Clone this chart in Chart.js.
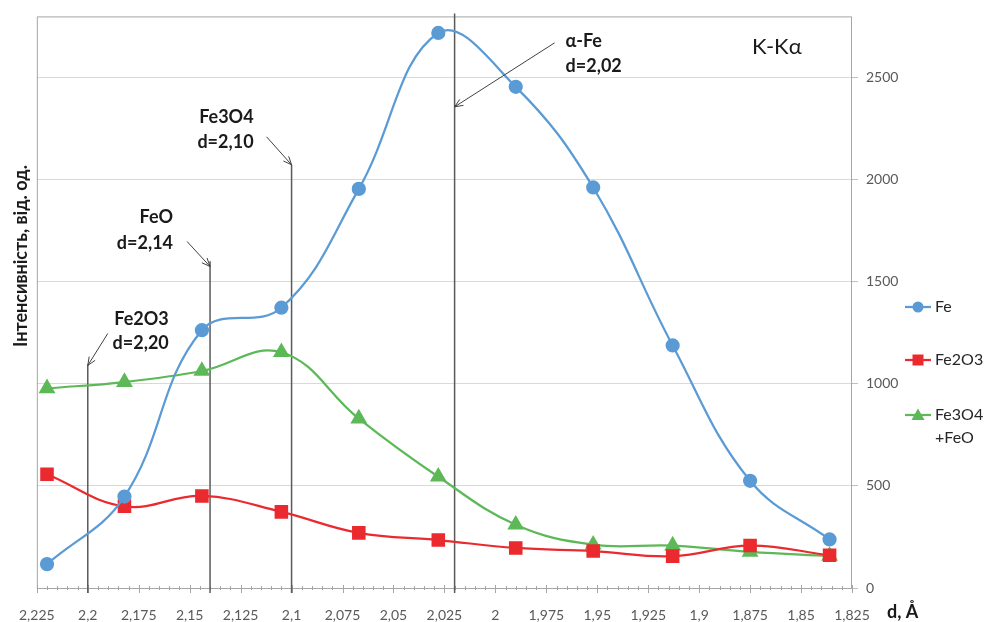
<!DOCTYPE html>
<html lang="uk">
<head>
<meta charset="utf-8">
<title>K-Kα</title>
<script src="https://cdn.jsdelivr.net/npm/chart.js@4.4.1/dist/chart.umd.min.js"></script>
<style>
  html, body { margin: 0; padding: 0; background: #fff; }
  #wrap { width: 986px; height: 622px; }
</style>
</head>
<body>
<div id="wrap"><canvas id="chart" width="986" height="622"></canvas></div>
<script>
// --- дані ---
const dValues     = [2.220, 2.182, 2.144, 2.105, 2.067, 2.028, 1.990, 1.952, 1.913, 1.875, 1.836];
const feValues    = [117, 448, 1263, 1373, 1955, 2719, 2455, 1962, 1188, 525, 238];
const fe2o3Values = [557, 400, 451, 373, 270, 235, 196, 181, 156, 208, 160];
const fe3o4Values = [978, 1009, 1063, 1155, 830, 545, 310, 212, 208, 177, 157];

const xTicks = [2.225, 2.2, 2.175, 2.15, 2.125, 2.1, 2.075, 2.05, 2.025, 2, 1.975, 1.95, 1.925, 1.9, 1.875, 1.85, 1.825];
const yTicks = [0, 500, 1000, 1500, 2000, 2500];

const phaseNames  = ['Fe2O3', 'FeO', 'Fe3O4', 'α-Fe'];
const phaseD      = [2.20, 2.14, 2.10, 2.02];
const phaseLabels = ['d=2,20', 'd=2,14', 'd=2,10', 'd=2,02'];

const FONT = 'Lato, "Open Sans", sans-serif';

const toPoints = (vals) => dValues.map((d, i) => ({ x: d, y: vals[i] }));

// --- вертикальні лінії фаз та стрілки ---
// top: висота лінії (null = на всю висоту), tip: значення кінця стрілки,
// tail / text: зсув у пікселях від кінця стрілки
const phaseGeom = [
  { top: 1095, tip: 1090, tail: [20, -32], textX: 81, rows: [-46, -22], align: 'right' },
  { top: 1600, tip: 1575, tail: [-23, -25], textX: -37, rows: [-49, -23], align: 'right' },
  { top: 2073, tip: 2073, tail: [-25, -28], textX: -38, rows: [-48, -23], align: 'right' },
  { top: null, tip: 2357, tail: [100, -64], textX: 111, rows: [-66, -41], align: 'left' }
];

function arrow(ctx, x1, y1, x2, y2) {
  const a = Math.atan2(y2 - y1, x2 - x1);
  const h = 9;
  ctx.beginPath();
  ctx.moveTo(x1, y1);
  ctx.lineTo(x2, y2);
  ctx.moveTo(x2 - h * Math.cos(a - 0.4), y2 - h * Math.sin(a - 0.4));
  ctx.lineTo(x2, y2);
  ctx.lineTo(x2 - h * Math.cos(a + 0.4), y2 - h * Math.sin(a + 0.4));
  ctx.stroke();
}

function marker(ctx, style, x, y, color) {
  ctx.fillStyle = color;
  ctx.beginPath();
  if (style === 'circle') {
    ctx.arc(x, y, 5.5, 0, Math.PI * 2);
  } else if (style === 'rect') {
    ctx.rect(x - 5.5, y - 5.5, 11, 11);
  } else {
    ctx.moveTo(x, y - 6.5);
    ctx.lineTo(x + 6.5, y + 5);
    ctx.lineTo(x - 6.5, y + 5);
    ctx.closePath();
  }
  ctx.fill();
}

const decorPlugin = {
  id: 'decor',
  beforeDatasetsDraw(chart) {
    const { ctx, chartArea: a, scales: { x, y } } = chart;
    ctx.save();
    // рамка області побудови
    ctx.strokeStyle = '#A6A6A6';
    ctx.lineWidth = 1;
    ctx.strokeRect(a.left + 0.5, a.top + 0.5, a.right - a.left - 1, a.bottom - a.top);
    // поділки осі X
    for (let i = 0; i <= 80; i++) {
      const v = 1.825 + i * 0.005;
      const px = Math.round(x.getPixelForValue(v)) + 0.5;
      const major = i % 5 === 0;
      ctx.beginPath();
      ctx.moveTo(px, a.bottom - (major ? 3 : 2));
      ctx.lineTo(px, a.bottom + (major ? 5 : 2));
      ctx.stroke();
    }
    // лінії фаз
    ctx.strokeStyle = '#5A5A5A';
    ctx.lineWidth = 1.5;
    phaseD.forEach((d, i) => {
      const g = phaseGeom[i];
      const px = x.getPixelForValue(d);
      const top = g.top === null ? a.top - 3 : y.getPixelForValue(g.top);
      ctx.beginPath();
      ctx.moveTo(px, top);
      ctx.lineTo(px, a.bottom + 5);
      ctx.stroke();
    });
    ctx.restore();
  },
  afterDraw(chart) {
    const { ctx, chartArea: a, scales: { x, y } } = chart;
    ctx.save();
    // стрілки та підписи фаз
    ctx.strokeStyle = '#404040';
    ctx.lineWidth = 1;
    ctx.fillStyle = '#1A1A1A';
    ctx.font = 'bold 18px ' + FONT;
    ctx.textBaseline = 'middle';
    phaseD.forEach((d, i) => {
      const g = phaseGeom[i];
      const tx = x.getPixelForValue(d);
      const ty = y.getPixelForValue(g.tip);
      arrow(ctx, tx + g.tail[0], ty + g.tail[1], tx, ty);
      ctx.textAlign = g.align;
      ctx.fillText(phaseNames[i], tx + g.textX, ty + g.rows[0]);
      ctx.fillText(phaseLabels[i], tx + g.textX, ty + g.rows[1]);
    });

    // K-Kα
    ctx.font = '22px ' + FONT;
    ctx.textAlign = 'left';
    ctx.fillText('K-Kα', 752, 47);

    // назва осі Y
    ctx.font = 'bold 18px ' + FONT;
    ctx.save();
    ctx.translate(27, 256);
    ctx.rotate(-Math.PI / 2);
    ctx.textAlign = 'center';
    ctx.textBaseline = 'alphabetic';
    ctx.fillText('Інтенсивність, від. од.', 0, 0);
    ctx.restore();

    // назва осі X
    ctx.textAlign = 'left';
    ctx.textBaseline = 'alphabetic';
    ctx.fillText('d, Å', 887, 618);

    // легенда
    const rows = [307, 360, 415];
    ctx.font = '16px ' + FONT;
    chart.data.datasets.forEach((ds, i) => {
      const ly = rows[i];
      ctx.strokeStyle = ds.borderColor;
      ctx.lineWidth = 2.25;
      ctx.beginPath();
      ctx.moveTo(905, ly);
      ctx.lineTo(931, ly);
      ctx.stroke();
      marker(ctx, ds.pointStyle, 918, ly, ds.pointBackgroundColor);
      ctx.fillStyle = '#262626';
      ctx.textBaseline = 'middle';
      ds.label.split(' ').forEach((t, k) => ctx.fillText(t, 935, ly + k * 23));
    });
    ctx.restore();
  }
};

const fmt = (v) => String(+(+v).toFixed(3)).replace('.', ',');

new Chart(document.getElementById('chart'), {
  type: 'line',
  data: {
    datasets: [
      {
        label: 'Fe',
        data: toPoints(feValues),
        borderColor: '#5B9BD5',
        backgroundColor: '#5B9BD5',
        pointBackgroundColor: '#5B9BD5',
        pointBorderColor: '#5B9BD5',
        pointStyle: 'circle',
        pointRadius: 6,
        borderWidth: 2.25,
        tension: 0.4
      },
      {
        label: 'Fe2O3',
        data: toPoints(fe2o3Values),
        borderColor: '#EA2A2E',
        backgroundColor: '#EA2A2E',
        pointBackgroundColor: '#EA2A2E',
        pointBorderColor: '#EA2A2E',
        pointStyle: 'rect',
        pointRadius: 8,
        borderWidth: 2.25,
        tension: 0.4
      },
      {
        label: 'Fe3O4 +FeO',
        data: toPoints(fe3o4Values),
        borderColor: '#5DB957',
        backgroundColor: '#5DB957',
        pointBackgroundColor: '#5DB957',
        pointBorderColor: '#5DB957',
        pointStyle: 'triangle',
        pointRadius: 7.5,
        borderWidth: 2.25,
        tension: 0.4
      }
    ]
  },
  options: {
    responsive: false,
    devicePixelRatio: 1,
    animation: false,
    layout: { padding: { left: 36, top: 15, right: 0, bottom: 0 } },
    plugins: {
      legend: { display: false },
      tooltip: { enabled: false }
    },
    scales: {
      x: {
        type: 'linear',
        reverse: true,
        min: 1.825,
        max: 2.225,
        afterBuildTicks: (s) => { s.ticks = xTicks.map(v => ({ value: v })); },
        afterFit: (s) => { s.height = 34; },
        grid: { display: false, drawTicks: false },
        border: { display: false },
        ticks: {
          autoSkip: false,
          maxRotation: 0,
          padding: 19,
          color: '#595959',
          font: { family: FONT, size: 14 },
          callback: (v) => fmt(v)
        }
      },
      y: {
        position: 'right',
        min: 0,
        max: 2800,
        afterBuildTicks: (s) => { s.ticks = yTicks.map(v => ({ value: v })); },
        afterFit: (s) => { s.width = 134; },
        grid: { color: '#D9D9D9', tickColor: '#BFBFBF', tickLength: 6, lineWidth: 1 },
        border: { display: false },
        ticks: {
          padding: 8,
          color: '#595959',
          font: { family: FONT, size: 14 },
          callback: (v) => String(v)
        }
      }
    }
  },
  plugins: [decorPlugin]
});
</script>
</body>
</html>
